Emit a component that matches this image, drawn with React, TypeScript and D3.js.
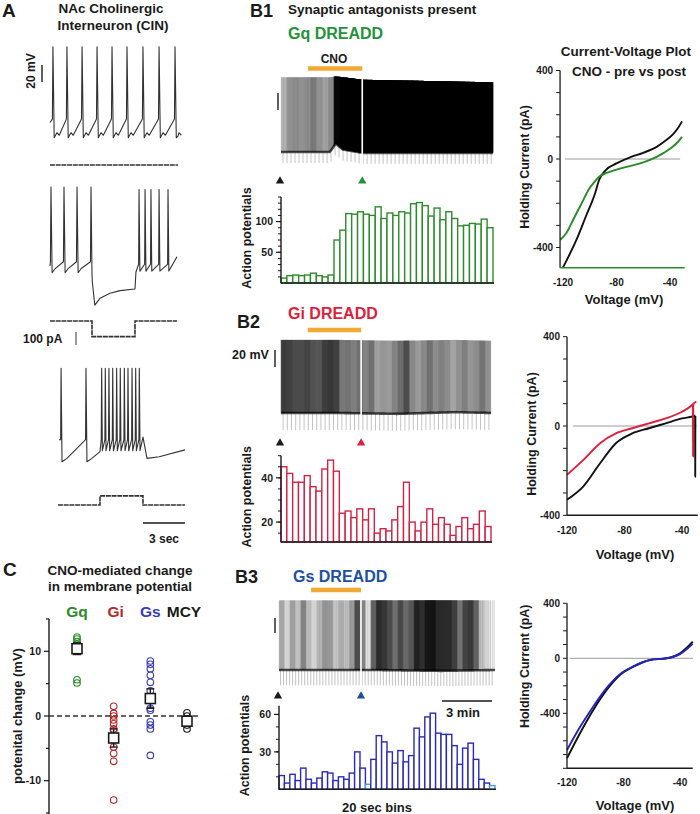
import React from 'react';
import * as d3 from 'd3';

type Pt = [number, number];

const FONT = "'Liberation Sans', Arial, Helvetica, sans-serif";
const INK = '#1a1a1a';
const GREEN = '#24923a';
const GREEN_BAR = '#2d8a2d';
const RED = '#dc1f3c';
const RED_BAR = '#cf2345';
const BLUE = '#1d4fa0';
const BLUE_BAR = '#2b2bb5';
const BLUE_LIGHT = '#4a9ae0';
const ORANGE = '#f2a933';
const GQ_GREEN = '#2a8a2a';
const GI_RED = '#b02a2a';
const GS_BLUE = '#3b3bb0';

// ---------------- Panel A data (time in s, potential in mV, current in pA) ----------------
const aSpikeShape: Pt[] = [[-0.04, -46], [0, 39], [0.09, -68], [0.28, -62], [0.45, -65]];
const aTrace1Spikes = [0.21, 1.21, 2.29, 3.36, 4.43, 5.5, 6.64, 7.79, 8.93];
const aTrace1Base: Pt[] = [[0, -50], [9.14, -66]];

const aTrace2Base: Pt[] = [[0, -60], [2.89, -55], [2.93, 33], [3.0, -70], [3.03, -80], [3.2, -106], [3.57, -98], [4.29, -92], [5.0, -89], [6.07, -87], [6.14, -67], [9.07, -49]];
const aTrace2SpikesA = [0.07, 1.0, 1.93];
const aTrace2ShapeA: Pt[] = [[-0.04, -55], [0, 33], [0.08, -68], [0.3, -63]];
const aTrace2SpikesB = [6.36, 6.79, 7.21, 7.79, 8.43];
const aTrace2ShapeB: Pt[] = [[-0.03, -58], [0, 30], [0.06, -66]];

const aTrace3Base: Pt[] = [[0.64, -42], [3.57, -56], [6.64, -39], [6.93, -64], [7.8, -62], [9.64, -54]];
const aTrace3SpikesA = [0.79, 2.57];
const aTrace3ShapeA: Pt[] = [[-0.03, -42], [0, 42], [0.07, -68], [0.42, -64]];
const aTrace3Train = [3.69, 3.95, 4.21, 4.48, 4.76, 5.02, 5.31, 5.57, 5.86, 6.12, 6.38];
const aTrace3ShapeB: Pt[] = [[-0.03, -42], [0, 42], [0.05, -55]];

const aCurrent1: Pt[] = [[0, 0], [9.14, 0]];
const aCurrent2: Pt[] = [[0, 0], [3.0, -120], [6.07, 0], [9.07, 0]];
const aCurrent3: Pt[] = [[0.57, 0], [3.57, 70], [6.64, 0], [9.64, 0]];

// ---------------- Panel C data (mV) ----------------
const cGroups = ['Gq', 'Gi', 'Gs', 'MCY'];
const cGq = [12.2, 11.9, 11.5, 11.1, 5.6, 5.1];
const cGi = [1.5, 0.4, 0, -0.6, -1.2, -2, -2.3, -4.8, -5.8, -7, -13];
const cGs = [8.5, 8, 7.3, 6.3, 5.2, 3.9, 1.2, 0.9, -0.9, -1.4, -2, -6.1];
const cMcy = [0.5, 0, -0.8, -1.4, -2];
const cMeans = [10.4, -3.4, 2.7, -0.8];
const cSems = [0.9, 1.4, 1.5, 0.6];

// ---------------- Panel B histograms (APs per 20 s bin) ----------------
const b1Counts = [8, 12, 13, 12, 13, 16, 12, 10, 13, 70, 86, 113, 112, 116, 112, 110, 124, 105, 114, 110, 116, 114, 129, 131, 126, 109, 122, 103, 116, 105, 93, 94, 97, 96, 104, 90];
const b2Counts = [45, 42, 38, 38, 41, 36, 34, 44, 48, 43, 24, 25, 22, 26, 21, 26, 15, 17, 16, 21, 27, 38, 20, 16, 20, 26, 19, 22, 19, 14, 18, 22, 17, 19, 25, 18];
const b3Counts = [11, 5, 12, 7, 17, 8, 5, 9, 14, 13, 7, 10, 8, 13, 30, 17, 4, 24, 43, 38, 30, 21, 31, 22, 27, 49, 42, 58, 61, 45, 44, 44, 35, 20, 33, 37, 24, 8, 5, 3];
const b3LightBins = [16, 39];

// trace envelopes (time in bins, mV)
const b1EnvT = [0, 8.3, 9.3, 10.5, 13.8, 36];
const b1EnvPeak = [28, 28, 29, 28, 25, 22];
const b1EnvBase = [-60, -60, -50, -57, -61, -61];
const b2EnvT = [0, 10, 20, 30, 36];
const b2EnvPeak = [26, 26, 25, 26, 25];
const b2EnvBase = [-60, -60, -61, -59, -60];
const b3EnvT = [0, 18, 30, 40];
const b3EnvPeak = [22, 22, 22, 22];
const b3EnvBase = [-60, -60, -61, -60];

// CNO application (minutes)
const b1Cno = [1.53, 4.6];
const b2Cno = [1.53, 4.58];
const b3Cno = [1.98, 5.06];

// ---------------- IV curves (mV, pA) ----------------
const b1IvVPre = [-120, -110, -103, -96, -93, -88, -80, -69, -60, -50, -44, -38, -34, -31];
const b1IvIPre = [-490, -366, -261, -155, -95, -50, -20, 10, 28, 55, 80, 110, 140, 170];
const b1IvVPost = [-122, -117.6, -112, -106, -101, -96, -93, -87, -80, -70, -60, -50, -44, -38, -34, -31];
const b1IvIPost = [-365, -336, -270, -200, -140, -100, -80, -62, -48, -32, -15, 10, 30, 55, 78, 100];

const b2IvVPre = [-120, -108.6, -97, -86, -74.6, -63, -51.4, -40, -31.5, -30.9, -30.8, -30.7];
const b2IvIPre = [-330, -270, -167, -77, -33, -10, 12, 34, 45, 47, -227, 45];
const b2IvVPost = [-120, -108.6, -97, -86, -74.6, -63, -51.4, -40, -33, -32.4, -32.3, -32.2, -30];
const b2IvIPost = [-219, -152, -77, -33, -10, 12, 34, 64, 94, 98, -137, 98, 109];

const b3IvV = [-120, -110.8, -101.4, -91.9, -82.5, -73, -61.2, -49.4, -40, -31];
const b3IvIPre = [-727, -545, -376, -230, -121, -61, -12, 0, 36, 121];
const b3IvIPost = [-667, -500, -350, -215, -115, -58, -12, 0, 30, 105];

const ivXTicks = [-120, -80, -40];

// ---------------- helpers ----------------
function withSpikes(base: Pt[], groups: [number[], Pt[]][]): Pt[] {
  const pts: Pt[] = [...base];
  groups.forEach(([spikes, shape]) => spikes.forEach(s => shape.forEach(([dt, v]) => pts.push([s + dt, v]))));
  return pts.sort((a, b) => a[0] - b[0]);
}

const T = (props: any) => <text fontFamily={FONT} fontWeight="bold" fill={INK} {...props} />;

function PanelA() {
  const x = d3.scaleLinear().domain([0, 10]).range([50, 190]);
  const mv = (zero: number) => d3.scaleLinear().domain([0, 20]).range([zero, zero - 17]);
  const pa = (zero: number) => d3.scaleLinear().domain([0, 100]).range([zero, zero - 13]);
  const y1 = mv(80), y2 = mv(215), y3 = mv(404);
  const c1 = pa(165), c2 = pa(321), c3 = pa(505);
  const v = (ys: any) => d3.line<Pt>().x(d => x(d[0])).y(d => ys(d[1]));
  const c = (ys: any) => d3.line<Pt>().x(d => x(d[0])).y(d => ys(d[1])).curve(d3.curveStepAfter);
  const tr1 = withSpikes(aTrace1Base, [[aTrace1Spikes, aSpikeShape]]);
  const tr2 = withSpikes(aTrace2Base, [[aTrace2SpikesA, aTrace2ShapeA], [aTrace2SpikesB, aTrace2ShapeB]]);
  const tr3 = withSpikes(aTrace3Base, [[aTrace3SpikesA, aTrace3ShapeA], [aTrace3Train, aTrace3ShapeB]]);
  const ts = { fill: 'none', stroke: '#333', strokeWidth: 1.1, strokeLinejoin: 'round' as const };
  const cs = { fill: 'none', stroke: '#333', strokeWidth: 1.6, strokeDasharray: '5,0.7' };
  const barTop = 65;
  const barLen = y1(0) - y1(20);
  return (
    <g>
      <T x={2} y={17} fontSize={19}>A</T>
      <T x={111} y={13} fontSize={13.5} textAnchor="middle">NAc Cholinergic</T>
      <T x={113} y={30} fontSize={13.5} textAnchor="middle">Interneuron (CIN)</T>
      <path d={v(y1)(tr1) || ''} {...ts} />
      <path d={c(c1)(aCurrent1) || ''} {...cs} />
      <path d={v(y2)(tr2) || ''} {...ts} />
      <path d={c(c2)(aCurrent2) || ''} {...cs} />
      <path d={v(y3)(tr3) || ''} {...ts} />
      <path d={c(c3)(aCurrent3) || ''} {...cs} />
      {/* scale bars */}
      <line x1={42} x2={42} y1={barTop} y2={barTop + barLen} stroke={INK} strokeWidth={1.4} />
      <T x={0} y={0} transform={`translate(${31},${barTop + 6}) rotate(-90)`} fontSize={12} textAnchor="middle" dy="0.35em">20 mV</T>
      <line x1={76} x2={76} y1={332} y2={332 + (c2(0) - c2(100))} stroke="#555" strokeWidth={1.2} />
      <T x={23} y={343} fontSize={12}>100 pA</T>
      <line x1={x(6.64)} x2={x(9.64)} y1={523} y2={523} stroke={INK} strokeWidth={1.4} />
      <T x={164} y={543} fontSize={12} textAnchor="middle">3 sec</T>
    </g>
  );
}

function PanelC() {
  const y = d3.scaleLinear().domain([0, 10]).range([716, 651.3]);
  const x = d3.scalePoint<string>().domain(cGroups).range([77, 187]);
  const pts = [cGq, cGi, cGs, cMcy];
  const cols = [GQ_GREEN, GI_RED, GS_BLUE, INK];
  const ax = 49;
  return (
    <g>
      <T x={3} y={576} fontSize={19}>C</T>
      <T x={120} y={575} fontSize={13.5} textAnchor="middle">CNO-mediated change</T>
      <T x={120} y={591} fontSize={13.5} textAnchor="middle">in membrane potential</T>
      {cGroups.map((g, i) => (
        <T key={g} x={(x(g) as number) + (i === 1 ? 2 : i === 3 ? -3 : 0)} y={617} fontSize={15.5} textAnchor="middle" fill={cols[i]}>{g}</T>
      ))}
      <line x1={ax} x2={ax} y1={y(15)} y2={814} stroke={INK} strokeWidth={1.4} />
      {[15, 5, -5, -15].map(t => <line key={t} x1={ax - 3} x2={ax} y1={y(t)} y2={y(t)} stroke={INK} strokeWidth={1.2} />)}
      {[10, 0, -10].map(t => (
        <g key={t}>
          <line x1={ax - 5} x2={ax} y1={y(t)} y2={y(t)} stroke={INK} strokeWidth={1.2} />
          <T x={ax - 8} y={y(t)} dy="0.35em" fontSize={10.5} textAnchor="end">{t}</T>
        </g>
      ))}
      <T x={0} y={0} transform={`translate(17,${y(0)}) rotate(-90)`} fontSize={13} textAnchor="middle" dy="0.35em">potenital change (mV)</T>
      <line x1={ax} x2={199} y1={y(0)} y2={y(0)} stroke="#333" strokeWidth={1.5} strokeDasharray="5,3" />
      {pts.map((arr, gi) => arr.map((v, j) => (
        <circle key={`${gi}-${j}`} cx={x(cGroups[gi]) as number} cy={y(v)} r={3.3} fill="none" stroke={cols[gi]} strokeWidth={1.1} />
      )))}
      {cMeans.map((m, gi) => {
        const cx = x(cGroups[gi]) as number;
        return (
          <g key={gi}>
            <line x1={cx} x2={cx} y1={y(m - cSems[gi])} y2={y(m + cSems[gi])} stroke={INK} strokeWidth={1.4} />
            <line x1={cx - 4} x2={cx + 4} y1={y(m - cSems[gi])} y2={y(m - cSems[gi])} stroke={INK} strokeWidth={1.4} />
            <line x1={cx - 4} x2={cx + 4} y1={y(m + cSems[gi])} y2={y(m + cSems[gi])} stroke={INK} strokeWidth={1.4} />
            <rect x={cx - 5} y={y(m) - 5} width={10} height={10} fill="#fff" stroke={INK} strokeWidth={1.6} />
          </g>
        );
      })}
    </g>
  );
}

interface BProps {
  label: string; labelX: number; labelY: number;
  title: string; titleColor: string; titleX: number; titleY: number;
  counts: number[]; envT: number[]; envPeak: number[]; envBase: number[];
  x0: number; x1: number; mvZero: number;
  spikeOpacity: number; pulseStep: number; pulseDepth: number;
  cno: number[]; cnoY: number;
  arrowY: number; arrowColor: string;
  hDomain: [number, number]; hRange: [number, number];
  hMajor: number[]; hMinor: number[];
  barColor: string; lightBins?: number[];
  yLabelX: number;
}

function BPanel(p: BProps) {
  const n = p.counts.length;
  const x = d3.scaleLinear().domain([0, n]).range([p.x0, p.x1]);
  const y = d3.scaleLinear().domain([0, 20]).range([p.mvZero, p.mvZero - 17]);
  const peakAt = d3.scaleLinear().domain(p.envT).range(p.envPeak);
  const baseAt = d3.scaleLinear().domain(p.envT).range(p.envBase);
  let spikes = '';
  p.counts.forEach((c, b) => {
    for (let i = 0; i < c; i++) {
      const t = b + (i + 0.5) / c;
      spikes += `M${x(t).toFixed(2)},${y(baseAt(t)).toFixed(1)}V${y(peakAt(t)).toFixed(1)}`;
    }
  });
  let pulses = '';
  for (let t = p.pulseStep / 2; t < n; t += p.pulseStep) {
    pulses += `M${x(t).toFixed(2)},${y(baseAt(t)).toFixed(1)}V${y(baseAt(t) - p.pulseDepth).toFixed(1)}`;
  }
  const band = d3.line<number>().x(t => x(t)).y(t => y(baseAt(t)))(d3.range(0, n + 0.001, 0.25)) || '';
  const hy = d3.scaleLinear().domain(p.hDomain).range(p.hRange);
  const bw = x(1) - x(0);
  const gapX = x(p.cno[1] * 3);
  const tri = d3.symbol().type(d3.symbolTriangle).size(30)() || '';
  return (
    <g>
      <T x={p.labelX} y={p.labelY} fontSize={18}>{p.label}</T>
      <T x={p.titleX} y={p.titleY} fontSize={16} fill={p.titleColor}>{p.title}</T>
      <line x1={x(p.cno[0] * 3)} x2={x(p.cno[1] * 3)} y1={p.cnoY} y2={p.cnoY} stroke={ORANGE} strokeWidth={4.5} />
      {/* trace */}
      <path d={pulses} stroke="#9a9a9a" strokeWidth={0.6} fill="none" />
      <path d={band} stroke="#222" strokeWidth={2.6} strokeOpacity={0.8} fill="none" />
      <path d={spikes} stroke="#000" strokeWidth={0.5} strokeOpacity={p.spikeOpacity} fill="none" />
      <rect x={gapX - 0.8} width={1.6} y={y(p.envPeak[0] + 6)} height={y(-95) - y(p.envPeak[0] + 6)} fill="#fff" />
      {/* arrows */}
      <path d={tri} transform={`translate(${x(0) - 1},${p.arrowY})`} fill={INK} />
      <path d={tri} transform={`translate(${gapX},${p.arrowY})`} fill={p.arrowColor} />
      {/* histogram */}
      {p.counts.map((c, i) => (
        <rect key={i} x={x(i)} width={bw} y={hy(c)} height={hy(p.hDomain[0]) - hy(c)} fill="#fff"
          stroke={p.lightBins && p.lightBins.includes(i) ? BLUE_LIGHT : p.barColor} strokeWidth={1.4} />
      ))}
      <line x1={p.x0} x2={p.x0} y1={p.hRange[1]} y2={p.hRange[0]} stroke={INK} strokeWidth={1.4} />
      <line x1={p.x0} x2={p.x1 + 1} y1={p.hRange[0]} y2={p.hRange[0]} stroke={INK} strokeWidth={1.6} />
      {p.hMinor.map(t => <line key={t} x1={p.x0 - 3} x2={p.x0} y1={hy(t)} y2={hy(t)} stroke={INK} strokeWidth={1} />)}
      {p.hMajor.map(t => (
        <g key={t}>
          <line x1={p.x0 - 5} x2={p.x0} y1={hy(t)} y2={hy(t)} stroke={INK} strokeWidth={1.2} />
          <T x={p.x0 - 8} y={hy(t)} dy="0.35em" fontSize={10.5} textAnchor="end">{t}</T>
        </g>
      ))}
      <T x={0} y={0} transform={`translate(${p.yLabelX},${(p.hRange[0] + p.hRange[1]) / 2 - 2}) rotate(-90)`} fontSize={12.5} textAnchor="middle" dy="0.35em">Action potentials</T>
    </g>
  );
}

interface IVSeries { v: number[]; i: number[]; color: string; }
interface IVProps {
  xr: [number, number]; vMin: number; vMax: number;
  yr: [number, number]; iMin: number; iMax: number;
  zeroFrom: number; zeroTo: number;
  series: IVSeries[];
  yLabelX: number; xTickY: number; xLabelX: number; xLabelY: number;
  xAxisColor: string;
}

function IVPlot(p: IVProps) {
  const x = d3.scaleLinear().domain([-120, -40]).range(p.xr);
  const y = d3.scaleLinear().domain([0, 400]).range(p.yr);
  const ax = x(p.vMin);
  const minor = d3.range(Math.ceil(p.iMin / 100) * 100, p.iMax + 1, 100);
  const line = d3.line<number>().curve(d3.curveMonotoneX);
  return (
    <g>
      <line x1={x(p.zeroFrom)} x2={x(p.zeroTo)} y1={y(0)} y2={y(0)} stroke="#9a9a9a" strokeWidth={1} />
      {p.series.map((s, k) => {
        const d = line.x((_, j) => x(s.v[j])).y((_, j) => y(s.i[j]))(s.v) || '';
        return <path key={k} d={d} fill="none" stroke={s.color} strokeWidth={1.9} strokeLinejoin="round" />;
      })}
      <line x1={ax} x2={ax} y1={y(p.iMax)} y2={y(p.iMin)} stroke={INK} strokeWidth={1.3} />
      <line x1={ax} x2={x(p.vMax)} y1={y(p.iMin)} y2={y(p.iMin)} stroke={p.xAxisColor} strokeWidth={1.5} />
      {minor.map(t => <line key={t} x1={ax - 4} x2={ax} y1={y(t)} y2={y(t)} stroke={INK} strokeWidth={1} />)}
      {[400, 0, -400].map(t => (
        <T key={t} x={ax - 7} y={y(t)} dy="0.35em" fontSize={10} textAnchor="end">{t}</T>
      ))}
      {ivXTicks.map(t => (
        <T key={t} x={x(t)} y={p.xTickY} dy="0.35em" fontSize={10} textAnchor="middle">{t}</T>
      ))}
      <T x={p.xLabelX} y={p.xLabelY} fontSize={13} textAnchor="middle">Voltage (mV)</T>
      <T x={0} y={0} transform={`translate(${p.yLabelX},${y(0) + 8}) rotate(-90)`} fontSize={12.5} textAnchor="middle" dy="0.35em">Holding Current (pA)</T>
    </g>
  );
}

export default function App() {
  return (
    <svg width={700} height={814} viewBox="0 0 700 814" style={{ position: 'absolute', left: 0, top: 0 }}>
      <rect width={700} height={814} fill="#fff" />
      <PanelA />
      <PanelC />
      <T x={288} y={14} fontSize={13.5}>Synaptic antagonists present</T>
      <T x={334} y={63} fontSize={12} textAnchor="middle">CNO</T>
      <BPanel label="B1" labelX={250} labelY={17} title="Gq DREADD" titleColor={GREEN} titleX={288} titleY={39}
        counts={b1Counts} envT={b1EnvT} envPeak={b1EnvPeak} envBase={b1EnvBase}
        x0={281} x1={493} mvZero={101} spikeOpacity={0.5} pulseStep={0.68} pulseDepth={13}
        cno={b1Cno} cnoY={68.5} arrowY={181} arrowColor={GREEN}
        hDomain={[0, 140]} hRange={[283, 197]} hMajor={[50, 100]} hMinor={d3.range(10, 141, 10)}
        barColor={GREEN_BAR} yLabelX={247} />
      <line x1={278} x2={278} y1={93} y2={110} stroke={INK} strokeWidth={1.4} />
      <BPanel label="B2" labelX={237} labelY={328} title="Gi DREADD" titleColor={RED} titleX={288} titleY={319}
        counts={b2Counts} envT={b2EnvT} envPeak={b2EnvPeak} envBase={b2EnvBase}
        x0={281} x1={491} mvZero={362} spikeOpacity={0.35} pulseStep={0.72} pulseDepth={20}
        cno={b2Cno} cnoY={330} arrowY={443} arrowColor={RED}
        hDomain={[11, 50]} hRange={[542, 455.7]} hMajor={[20, 40]} hMinor={d3.range(15, 51, 5)}
        barColor={RED_BAR} yLabelX={247} />
      <line x1={275} x2={275} y1={350} y2={367} stroke={INK} strokeWidth={1.4} />
      <T x={232} y={359} fontSize={12.5}>20 mV</T>
      <BPanel label="B3" labelX={235} labelY={583} title="Gs DREADD" titleColor={BLUE} titleX={293} titleY={582}
        counts={b3Counts} envT={b3EnvT} envPeak={b3EnvPeak} envBase={b3EnvBase}
        x0={279} x1={495} mvZero={619} spikeOpacity={0.4} pulseStep={0.56} pulseDepth={18}
        cno={b3Cno} cnoY={590} arrowY={696} arrowColor={BLUE}
        hDomain={[0, 67]} hRange={[789.3, 705.7]} hMajor={[30, 60]} hMinor={d3.range(10, 61, 10)}
        barColor={BLUE_BAR} lightBins={b3LightBins} yLabelX={245} />
      <line x1={275} x2={275} y1={618} y2={633} stroke={INK} strokeWidth={1.4} />
      <line x1={442} x2={492} y1={701} y2={701} stroke={INK} strokeWidth={1.4} />
      <T x={463} y={717} fontSize={13} textAnchor="middle">3 min</T>
      <T x={377} y={812} fontSize={13} textAnchor="middle">20 sec bins</T>

      <T x={626} y={56} fontSize={13.5} textAnchor="middle">Current-Voltage Plot</T>
      <T x={629} y={76} fontSize={13.5} textAnchor="middle">CNO - pre vs post</T>
      <IVPlot xr={[563, 670]} vMin={-122.2} vMax={-29} yr={[159, 70.5]} iMin={-492} iMax={400}
        zeroFrom={-118.5} zeroTo={-32.4}
        series={[{ v: b1IvVPre, i: b1IvIPre, color: '#111' }, { v: b1IvVPost, i: b1IvIPost, color: GQ_GREEN }]}
        yLabelX={525} xTickY={282} xLabelX={624} xLabelY={304} xAxisColor={GQ_GREEN} />
      <IVPlot xr={[567, 682]} vMin={-120} vMax={-29} yr={[426, 336.7]} iMin={-400} iMax={400}
        zeroFrom={-115.8} zeroTo={-29.6}
        series={[{ v: b2IvVPre, i: b2IvIPre, color: '#111' }, { v: b2IvVPost, i: b2IvIPost, color: RED }]}
        yLabelX={532} xTickY={530} xLabelX={635} xLabelY={559} xAxisColor={INK} />
      <IVPlot xr={[567, 680]} vMin={-120} vMax={-31} yr={[658.3, 603.3]} iMin={-800} iMax={400}
        zeroFrom={-117.9} zeroTo={-30.8}
        series={[{ v: b3IvV, i: b3IvIPre, color: '#111' }, { v: b3IvV, i: b3IvIPost, color: '#2424c0' }]}
        yLabelX={525} xTickY={782} xLabelX={635} xLabelY={810} xAxisColor={INK} />
    </svg>
  );
}
